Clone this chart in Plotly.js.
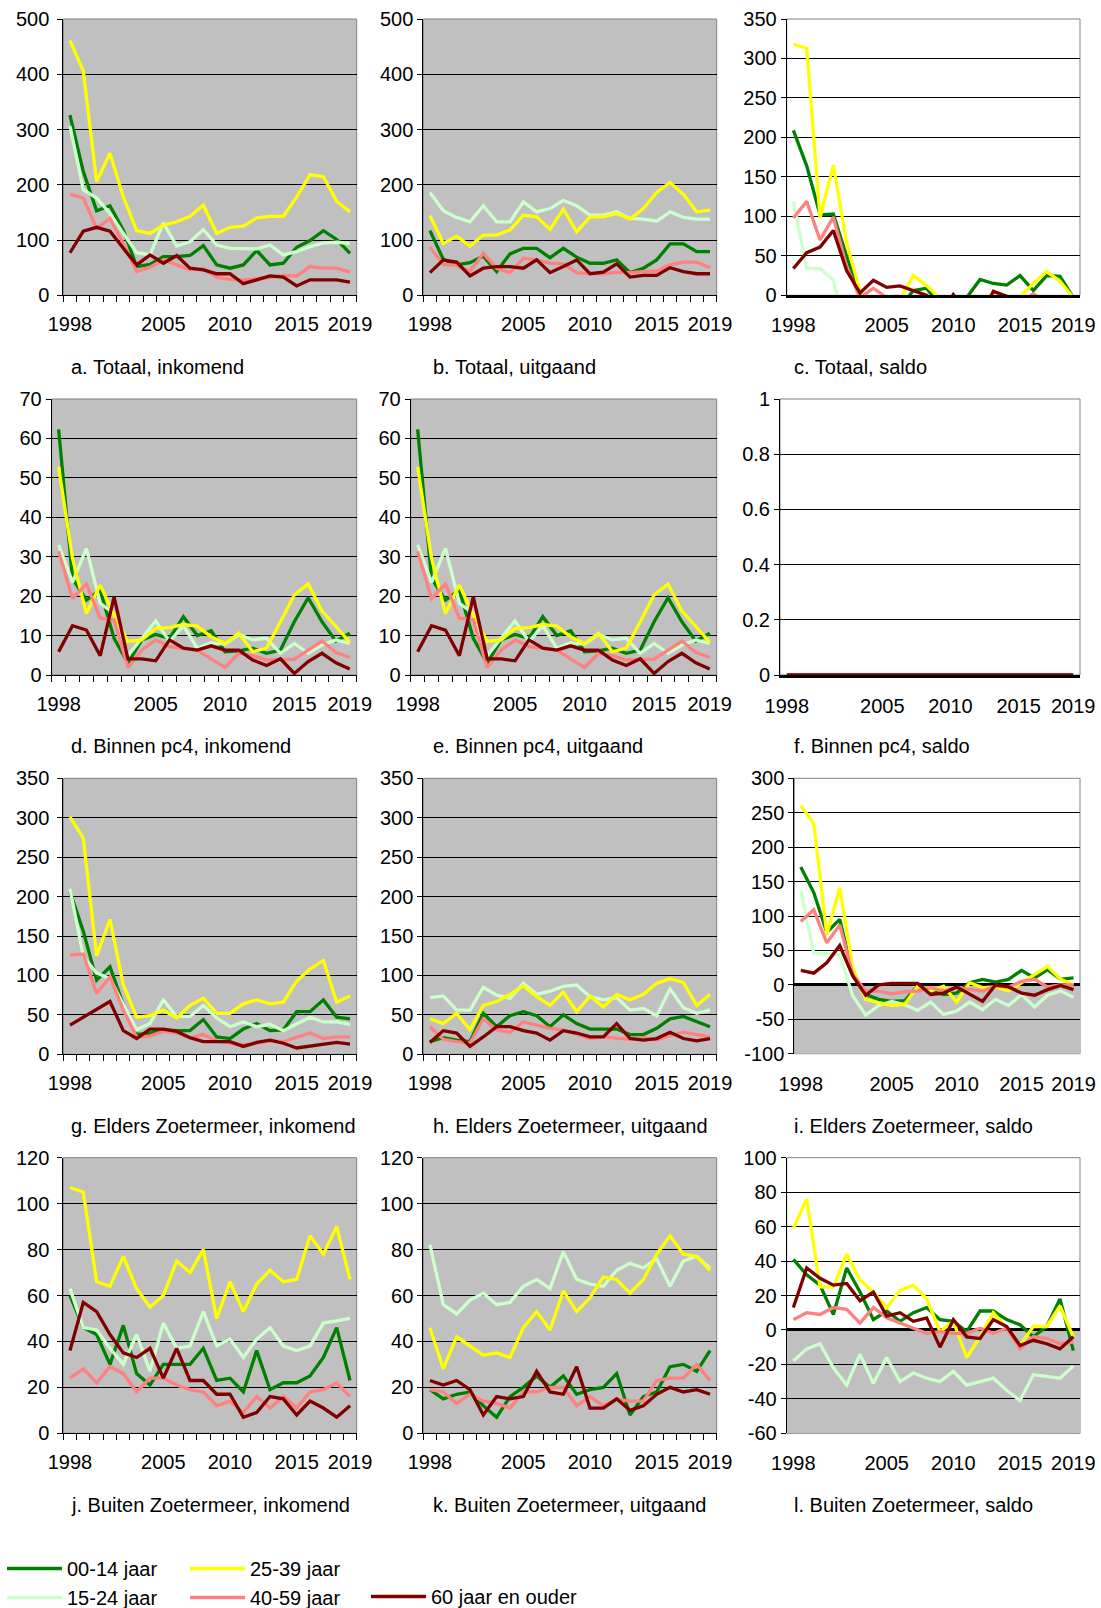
<!DOCTYPE html>
<html>
<head>
<meta charset="utf-8">
<script src="https://cdn.plot.ly/plotly-3.0.1.min.js"></script>
<style>
  html, body { margin: 0; padding: 0; background: #ffffff; overflow: hidden; }
  #chart { width: 1101px; height: 1608px; }
</style>
</head>
<body>
<div id="chart"></div>
<script>
// ---------------- DATA ----------------
const years = [1998,1999,2000,2001,2002,2003,2004,2005,2006,2007,2008,2009,2010,2011,2012,2013,2014,2015,2016,2017,2018,2019];
const xTickYears = [1998, 2005, 2010, 2015, 2019];
const xTickText = ['1998', '2005', '2010', '2015', '2019'];
const ageGroups = ['00-14 jaar', '15-24 jaar', '25-39 jaar', '40-59 jaar', '60 jaar en ouder'];

// a. Totaal, inkomend
const totIn0014 = [326,224,153,162,118,52,56,70,70,72,90,55,49,55,81,55,58,87,99,117,101,76];
const totIn1524 = [306,191,176,148,112,77,73,131,89,97,119,91,85,84,84,91,73,79,88,95,96,94];
const totIn2539 = [461,406,206,257,178,117,112,127,133,143,163,112,123,125,140,143,143,178,218,215,170,151];
const totIn4059 = [183,176,121,139,94,43,51,64,55,46,48,33,29,28,30,32,36,35,52,49,49,42];
const totIn60 = [77,116,123,116,85,55,73,58,72,49,46,39,39,21,28,35,33,17,28,28,28,24];

// b. Totaal, uitgaand
const totUit0014 = [117,65,55,59,71,43,75,85,85,68,85,69,58,58,64,41,49,64,93,93,79,79];
const totUit1524 = [186,153,141,133,162,133,133,169,151,157,172,162,145,145,151,139,138,134,151,141,138,138];
const totUit2539 = [144,94,107,89,109,109,118,145,142,119,156,115,142,142,148,138,157,186,204,183,151,154];
const totUit4059 = [87,56,54,43,76,49,41,67,64,58,57,41,39,39,42,41,43,44,55,60,60,50];
const totUit60 = [41,64,60,35,49,52,52,49,64,41,52,64,39,42,57,33,36,36,50,43,39,39];

// c. Totaal, saldo
const totSal0014 = [209,164,102,103,49,2,-19,-15,-15,6,9,-14,-9,-3,20,15,13,25,6,25,24,-3];
const totSal1524 = [119,34,34,19,-50,-56,-60,-38,-62,-60,-53,-71,-60,-61,-67,-48,-65,-55,-63,-46,-42,-44];
const totSal2539 = [318,313,98,165,66,5,-6,-18,-5,25,12,-3,-19,-17,-8,3,-14,-2,15,30,18,-3];
const totSal4059 = [98,119,70,99,36,-3,9,-3,-9,-12,-9,-8,-10,-11,-12,-9,-7,-9,2,-11,-11,-8];
const totSal60 = [34,54,61,82,31,3,19,10,12,6,0,-25,1,-21,-29,5,-1,-19,-22,-15,-11,-15];

// d. Binnen pc4, inkomend
const binIn0014 = [62.3,24.5,19,21.5,9.3,3,8.9,10.3,9.3,14.8,10,11.2,5.9,6.1,6.8,5.5,6.3,13.5,19.6,13.5,8.6,10.6];
const binIn1524 = [33,23.5,32.1,18.2,15.6,4.9,9.3,13.7,8.5,12.5,6.8,8.2,7.8,10.3,8.9,9.3,5.5,8,5.5,7.6,8.9,8];
const binIn2539 = [52.8,29.6,15.6,22.8,15.2,8.5,8.9,11.8,12,12.8,12.4,9.7,8,10.6,5.9,6.8,13.5,20.3,23.1,16.2,12.3,8.3];
const binIn4059 = [31.3,19.4,23.1,14.4,14,1.9,6.3,8.9,7.2,6.8,6.3,4.1,1.9,5.5,4.9,3.8,3.8,4,6.3,8.6,5.7,4.5];
const binIn60 = [5.9,12.5,11.4,4.9,19.8,4.1,4.1,3.6,8.9,6.8,6.3,7.4,6.3,6.3,3.8,2.4,4.1,0.4,3.4,5.5,3.1,1.5];

// e. Binnen pc4, uitgaand
const binUit0014 = [62.3,24.5,19,21.5,9.3,3,8.9,10.3,9.3,14.8,10,11.2,5.9,6.1,6.8,5.5,6.3,13.5,19.6,13.5,8.6,10.6];
const binUit1524 = [33,23.5,32.1,18.2,15.6,4.9,9.3,13.7,8.5,12.5,6.8,8.2,7.8,10.3,8.9,9.3,5.5,8,5.5,7.6,8.9,8];
const binUit2539 = [52.8,29.6,15.6,22.8,15.2,8.5,8.9,11.8,12,12.8,12.4,9.7,8,10.6,5.9,6.8,13.5,20.3,23.1,16.2,12.3,8.3];
const binUit4059 = [31.3,19.4,23.1,14.4,14,1.9,6.3,8.9,7.2,6.8,6.3,4.1,1.9,5.5,4.9,3.8,3.8,4,6.3,8.6,5.7,4.5];
const binUit60 = [5.9,12.5,11.4,4.9,19.8,4.1,4.1,3.6,8.9,6.8,6.3,7.4,6.3,6.3,3.8,2.4,4.1,0.4,3.4,5.5,3.1,1.5];

// f. Binnen pc4, saldo
const binSal0014 = [0,0,0,0,0,0,0,0,0,0,0,0,0,0,0,0,0,0,0,0,0,0];
const binSal1524 = [0,0,0,0,0,0,0,0,0,0,0,0,0,0,0,0,0,0,0,0,0,0];
const binSal2539 = [0,0,0,0,0,0,0,0,0,0,0,0,0,0,0,0,0,0,0,0,0,0];
const binSal4059 = [0,0,0,0,0,0,0,0,0,0,0,0,0,0,0,0,0,0,0,0,0,0];
const binSal60 = [0,0,0,0,0,0,0,0,0,0,0,0,0,0,0,0,0,0,0,0,0,0];

// g. Elders Zoetermeer, inkomend
const elsIn0014 = [206,156,94,111,63,25,27,31,30,30,44,22,20,32,39,30,31,54,54,69,47,45];
const elsIn1524 = [210,124,103,96,63,31,39,69,48,48,62,46,35,41,35,38,30,38,47,41,41,38];
const elsIn2539 = [301,274,125,171,88,47,49,56,46,62,71,52,52,64,69,64,66,93,108,119,66,74];
const elsIn4059 = [126,127,77,98,56,22,23,29,27,21,25,17,14,12,14,17,16,22,27,20,22,22];
const elsIn60 = [37,47,57,67,30,20,32,32,29,21,16,16,16,10,15,18,14,8,10,13,15,13];

// h. Elders Zoetermeer, uitgaand
const elsUit0014 = [16,21,18,16,52,35,49,54,49,35,50,39,32,32,32,25,25,33,45,48,42,35];
const elsUit1524 = [72,74,56,56,85,75,71,90,76,80,86,88,73,69,72,56,58,49,83,59,52,56];
const elsUit2539 = [45,39,52,31,62,67,76,87,73,62,79,54,74,60,76,69,76,90,96,91,62,76];
const elsUit4059 = [35,19,16,14,45,31,28,41,37,33,31,26,20,22,21,19,21,18,24,28,25,22];
const elsUit60 = [15,30,27,10,22,35,35,30,27,18,30,27,22,22,39,20,18,20,28,20,17,20];

// i. Elders Zoetermeer, saldo
const elsSal0014 = [171,134,76,95,17,-14,-21,-24,-23,-2,-9,-14,-12,3,8,4,8,21,10,22,8,10];
const elsSal1524 = [137,46,45,44,-16,-44,-30,-24,-29,-37,-25,-43,-38,-25,-36,-21,-30,-14,-32,-15,-9,-18];
const elsSal2539 = [260,235,73,141,25,-21,-26,-30,-28,-2,-9,-2,-25,3,-4,-3,-9,3,14,27,8,0];
const elsSal4059 = [92,109,61,87,15,-9,-9,-13,-10,-9,-4,-9,-4,-7,-9,-2,-3,5,8,-3,0,0];
const elsSal60 = [21,17,32,57,13,-15,0,2,2,2,-14,-12,-3,-13,-24,0,-3,-12,-15,-7,-1,-7];

// j. Buiten Zoetermeer, inkomend
const butIn0014 = [60,46,43,30,47,26,21,30,30,30,37,23,24,18,36,19,22,22,25,33,46,23];
const butIn1524 = [63,46,45,37,30,43,27,48,37,38,53,38,41,33,41,46,38,36,38,48,49,50];
const butIn2539 = [107,105,66,64,77,63,55,60,75,70,80,50,66,53,65,71,66,67,86,78,90,67];
const butIn4059 = [24,28,22,29,26,18,24,24,21,19,18,12,14,9,16,11,16,11,18,19,22,16];
const butIn60 = [36,57,53,43,35,33,37,24,37,23,23,17,17,7,9,16,15,8,14,11,7,12];

// k. Buiten Zoetermeer, uitgaand
const butUit0014 = [19,15,17,18,12,7,16,20,25,20,25,17,19,20,26,8,16,18,29,30,27,36];
const butUit1524 = [82,56,52,58,61,56,57,64,67,63,79,67,65,64,71,74,72,76,64,75,77,72];
const butUit2539 = [46,28,42,38,34,35,33,46,53,45,62,53,59,68,67,61,67,78,86,78,77,71];
const butUit4059 = [19,18,13,17,14,13,11,18,18,20,20,12,16,12,15,14,14,23,24,24,30,23];
const butUit60 = [23,21,23,19,8,16,15,16,27,18,17,29,11,11,15,10,12,17,20,18,19,17];

// l. Buiten Zoetermeer, saldo
const butSal0014 = [41,32,26,9,36,22,6,11,5,10,13,6,5,-1,11,11,6,3,-4,2,18,-12];
const butSal1524 = [-18,-11,-8,-22,-32,-14,-31,-16,-30,-25,-28,-30,-24,-32,-30,-28,-35,-41,-26,-27,-28,-21];
const butSal2539 = [59,76,25,25,44,29,22,13,23,26,18,-1,5,-16,-4,10,1,-9,2,2,14,-4];
const butSal4059 = [6,10,9,13,12,4,13,7,4,1,-2,-1,-2,-2,1,-2,1,-11,-4,-5,-8,-7];
const butSal60 = [13,36,30,26,27,17,22,8,10,5,7,-10,6,-4,-5,6,2,-9,-6,-8,-11,-4];

// y-axis tick values per panel
const yTicks500 = [0,100,200,300,400,500];
const yTicks350 = [0,50,100,150,200,250,300,350];
const yTicks70 = [0,10,20,30,40,50,60,70];
const yTicks1 = [0,0.2,0.4,0.6,0.8,1];
const yTicksElsSal = [-100,-50,0,50,100,150,200,250,300];
const yTicks120 = [0,20,40,60,80,100,120];
const yTicksButSal = [-60,-40,-20,0,20,40,60,80,100];

const panelTitles = [
  'a. Totaal, inkomend', 'b. Totaal, uitgaand', 'c. Totaal, saldo',
  'd. Binnen pc4, inkomend', 'e. Binnen pc4, uitgaand', 'f. Binnen pc4, saldo',
  'g. Elders Zoetermeer, inkomend', 'h. Elders Zoetermeer, uitgaand', 'i. Elders Zoetermeer, saldo',
  'j. Buiten Zoetermeer, inkomend', 'k. Buiten Zoetermeer, uitgaand', 'l. Buiten Zoetermeer, saldo'
];

// ---------------- STYLE / LAYOUT ----------------
const W = 1101, H = 1608;
const seriesColors = ['#008000', '#CCFFCC', '#FFFF00', '#FF8080', '#800000'];
const legendOf = ['legend', 'legend', 'legend2', 'legend2', 'legend3'];
const FONT = 'Liberation Sans, Arial, Helvetica, sans-serif';

// plot boxes in pixels: [left, top, right, bottom]; kind: flow / saldo
const panels = [
  {series:[totIn0014,totIn1524,totIn2539,totIn4059,totIn60], ticks:yTicks500, box:[63.3,19,356.7,295.3], kind:'flow', sto:4},
  {series:[totUit0014,totUit1524,totUit2539,totUit4059,totUit60], ticks:yTicks500, box:[423.3,19,716.7,295.3], kind:'flow', sto:0},
  {series:[totSal0014,totSal1524,totSal2539,totSal4059,totSal60], ticks:yTicks350, box:[786.7,19,1080,295.3], kind:'saldoEdge', sto:0},
  {series:[binIn0014,binIn1524,binIn2539,binIn4059,binIn60], ticks:yTicks70, box:[51.7,399,356.7,675], kind:'flow', sto:0},
  {series:[binUit0014,binUit1524,binUit2539,binUit4059,binUit60], ticks:yTicks70, box:[410.7,399,716.7,675], kind:'flow', sto:0},
  {series:[binSal0014,binSal1524,binSal2539,binSal4059,binSal60], ticks:yTicks1, box:[780,399,1080,675], kind:'saldoFlat', sto:0},
  {series:[elsIn0014,elsIn1524,elsIn2539,elsIn4059,elsIn60], ticks:yTicks350, box:[63.3,778.3,356.7,1054.3], kind:'flow', sto:4},
  {series:[elsUit0014,elsUit1524,elsUit2539,elsUit4059,elsUit60], ticks:yTicks350, box:[423.3,778.3,716.7,1054.3], kind:'flow', sto:0},
  {series:[elsSal0014,elsSal1524,elsSal2539,elsSal4059,elsSal60], ticks:yTicksElsSal, box:[794.3,778.3,1080,1053.7], kind:'saldo', sto:0},
  {series:[butIn0014,butIn1524,butIn2539,butIn4059,butIn60], ticks:yTicks120, box:[63.3,1157.7,356.7,1433.3], kind:'flow', sto:4},
  {series:[butUit0014,butUit1524,butUit2539,butUit4059,butUit60], ticks:yTicks120, box:[423.3,1157.7,716.7,1433.3], kind:'flow', sto:0},
  {series:[butSal0014,butSal1524,butSal2539,butSal4059,butSal60], ticks:yTicksButSal, box:[786.7,1157.7,1080,1433.3], kind:'saldo', sto:0}
];
const titlePos = [[68.7,367],[430.5,367],[792.4,367],[68.7,746],[430.5,746],[792.4,746],
                  [68.7,1125.5],[430.5,1125.5],[792.4,1125.5],[68.7,1505],[430.5,1505],[792.4,1505]];

const boundaries = years.map(y => y - 0.5).concat([years[years.length - 1] + 0.5]);

const traces = [];
const layout = {
  width: W, height: H,
  margin: {l: 0, r: 0, t: 0, b: 0, autoexpand: false},
  paper_bgcolor: '#ffffff',
  plot_bgcolor: 'rgba(0,0,0,0)',
  font: {family: FONT, size: 20, color: '#000000'},
  showlegend: true,
  shapes: [],
  annotations: []
};

panels.forEach((p, i) => {
  const n = i + 1;
  const xa = n === 1 ? 'x' : 'x' + n;
  const ya = n === 1 ? 'y' : 'y' + n;
  const [L, T, R, B] = p.box;
  const yr = [p.ticks[0], p.ticks[p.ticks.length - 1]];
  const isFlow = p.kind === 'flow';

  const xAxis = {
    domain: [L / W, R / W],
    anchor: ya,
    range: [years[0] - 0.5, years[years.length - 1] + 0.5],
    tickmode: 'array', tickvals: xTickYears, ticktext: xTickText,
    ticks: '', ticklabelstandoff: 11,
    showgrid: false, zeroline: false,
    fixedrange: true,
    tickfont: {family: FONT, size: 20, color: '#000000'}
  };
  if (isFlow) {
    Object.assign(xAxis, {
      showline: true, linecolor: '#000000', linewidth: 1,
      minor: {tickmode: 'array', tickvals: boundaries, ticks: 'outside', ticklen: 6, tickcolor: '#000000', tickwidth: 1, showgrid: false}
    });
  } else if (p.kind === 'saldoEdge') {
    Object.assign(xAxis, {showline: true, linecolor: '#000000', linewidth: 3, ticklabelstandoff: 10});
  } else if (p.kind === 'saldoFlat') {
    Object.assign(xAxis, {showline: true, linecolor: '#000000', linewidth: 3, layer: 'below traces', ticklabelstandoff: 11});
  } else {
    Object.assign(xAxis, {showline: false, ticklabelstandoff: 16});
  }
  layout['xaxis' + (n === 1 ? '' : n)] = xAxis;

  layout['yaxis' + (n === 1 ? '' : n)] = {
    domain: [1 - B / H, 1 - T / H],
    anchor: xa,
    range: yr,
    tickmode: 'array', tickvals: p.ticks, ticktext: p.ticks.map(v => String(v)),
    ticks: 'outside', ticklen: 5, tickcolor: '#000000', tickwidth: 1,
    ticklabelstandoff: p.sto,
    showline: true, linecolor: '#000000', linewidth: 1,
    showgrid: true, gridcolor: '#000000', gridwidth: 1,
    zeroline: p.kind === 'saldo', zerolinecolor: '#000000', zerolinewidth: 3,
    fixedrange: true,
    layer: p.kind === 'saldoFlat' ? 'below traces' : 'above traces',
    tickfont: {family: FONT, size: 20, color: '#000000'}
  };

  // plot-area background & border
  layout.shapes.push({
    type: 'rect', xref: xa + ' domain', yref: ya + ' domain',
    x0: 0, x1: 1, y0: 0, y1: 1, layer: 'below',
    fillcolor: isFlow ? '#C0C0C0' : '#FFFFFF',
    line: {color: '#808080', width: 1}
  });
  if (p.kind === 'saldo') {
    layout.shapes.push({
      type: 'rect', xref: xa + ' domain', yref: ya,
      x0: 0, x1: 1, y0: yr[0], y1: 0, layer: 'below',
      fillcolor: '#C0C0C0', line: {width: 0}
    });
  }

  p.series.forEach((vals, s) => {
    traces.push({
      type: 'scatter', mode: 'lines',
      x: years, y: vals,
      xaxis: xa, yaxis: ya,
      name: ageGroups[s],
      legend: legendOf[s],
      showlegend: n === 1,
      line: {color: seriesColors[s], width: 3.3},
      hoverinfo: 'skip'
    });
  });

  layout.annotations.push({
    xref: 'paper', yref: 'paper',
    x: titlePos[i][0] / W, y: 1 - titlePos[i][1] / H,
    xanchor: 'left', yanchor: 'middle',
    text: panelTitles[i], showarrow: false,
    font: {family: FONT, size: 20, color: '#000000'}
  });
});

const legendBase = {
  orientation: 'v', xanchor: 'left', yanchor: 'top',
  bgcolor: 'rgba(0,0,0,0)', borderwidth: 0,
  itemwidth: 55, tracegroupgap: 0,
  font: {family: FONT, size: 20, color: '#000000'},
  itemclick: false, itemdoubleclick: false
};
layout.legend = Object.assign({}, legendBase, {x: 2 / W, y: 1 - 1549 / H});
layout.legend2 = Object.assign({}, legendBase, {x: 185 / W, y: 1 - 1549 / H});
layout.legend3 = Object.assign({}, legendBase, {x: 366 / W, y: 1 - 1577 / H});

Plotly.newPlot('chart', traces, layout, {displayModeBar: false, staticPlot: true});
</script>
</body>
</html>
